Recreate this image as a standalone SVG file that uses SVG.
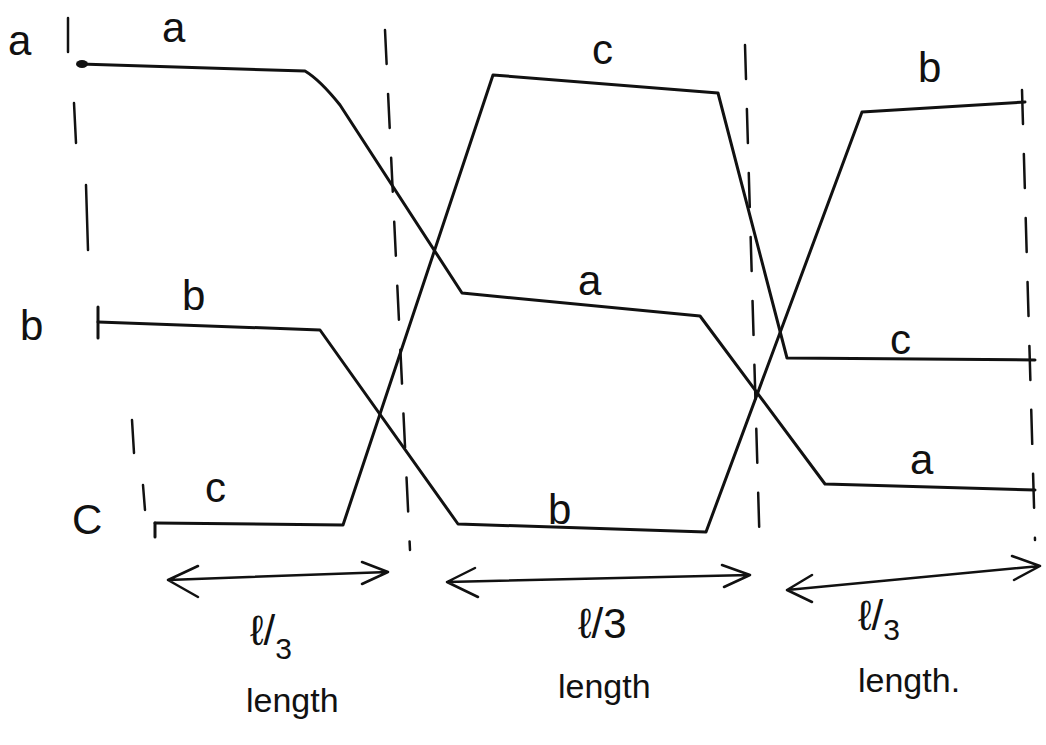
<svg xmlns="http://www.w3.org/2000/svg" width="1046" height="745" viewBox="0 0 1046 745">
<style>
.w{fill:none;stroke:#111;stroke-width:3;stroke-linejoin:round;stroke-linecap:round}
.d{fill:none;stroke:#111;stroke-width:2.5;stroke-dasharray:34 30;stroke-linecap:round}
.k{fill:none;stroke:#111;stroke-width:2.5;stroke-linecap:round}
.t{font-family:"Liberation Sans",Arial,sans-serif;fill:#111;font-size:42px}
.s{font-family:"Liberation Sans",Arial,sans-serif;fill:#111;font-size:34px}
.ar{fill:none;stroke:#111;stroke-width:2.5;stroke-linecap:round;stroke-linejoin:round}
</style>
<rect width="1046" height="745" fill="#fff"/>
<g id="connectors">
<g id="dashes">
<path class="k" d="M68,18 L68,52 M74,103 L76,143 M86,185 L88,250 M132,420 L134,453 M143,485 L145,510"/>
<path class="d" d="M385,30 L410,550"/>
<path class="d" d="M745,45 L760,555"/>
<path class="d" d="M1022,90 L1035,540"/>
<path class="w" d="M98,307 L98,338"/>
<path class="w" d="M155,523 L155,537"/>
</g>
<g id="conductor-a">
<path class="w" d="M80,64 L305,71 Q320,80 340,105 L462,293 L700,316 L825,484 L1035,490"/>
<ellipse cx="82" cy="64" rx="6" ry="4" fill="#111"/>
</g>
<g id="conductor-b">
<path class="w" d="M98,322 L320,330 L458,524 L706,532 L862,112 L1025,102"/>
</g>
<g id="conductor-c">
<path class="w" d="M155,523 L343,525 L493,75 L718,93 L787,358 L1035,360"/>
</g>
<g id="arrows">
<path class="ar" d="M168,580 L388,572 M198,566 L168,580 L198,597 M362,562 L388,572 L362,584"/>
<path class="ar" d="M447,582 L750,575 M475,568 L447,582 L478,597 M722,565 L750,575 L724,587"/>
<path class="ar" d="M787,590 L1040,566 M812,575 L787,590 L812,602 M1012,556 L1040,566 L1014,580"/>
</g>
</g>
<g id="labels">
<text class="t" x="8" y="55">a</text>
<text class="t" x="162" y="42">a</text>
<text class="t" x="20" y="340">b</text>
<text class="t" x="182" y="310">b</text>
<text class="t" x="72" y="534">C</text>
<text class="t" x="205" y="502">c</text>
<text class="t" x="592" y="64">c</text>
<text class="t" x="578" y="295">a</text>
<text class="t" x="548" y="524">b</text>
<text class="t" x="918" y="82">b</text>
<text class="t" x="890" y="354">c</text>
<text class="t" x="910" y="474">a</text>
</g>
<g id="length-labels">
<text class="t" x="250" y="645">ℓ/<tspan font-size="30" dy="14">3</tspan></text>
<text class="s" x="246" y="712">length</text>
<text class="t" x="578" y="638">ℓ/3</text>
<text class="s" x="558" y="698">length</text>
<text class="t" x="858" y="630">ℓ/<tspan font-size="30" dy="10">3</tspan></text>
<text class="s" x="858" y="692">length.</text>
</g>
</svg>
